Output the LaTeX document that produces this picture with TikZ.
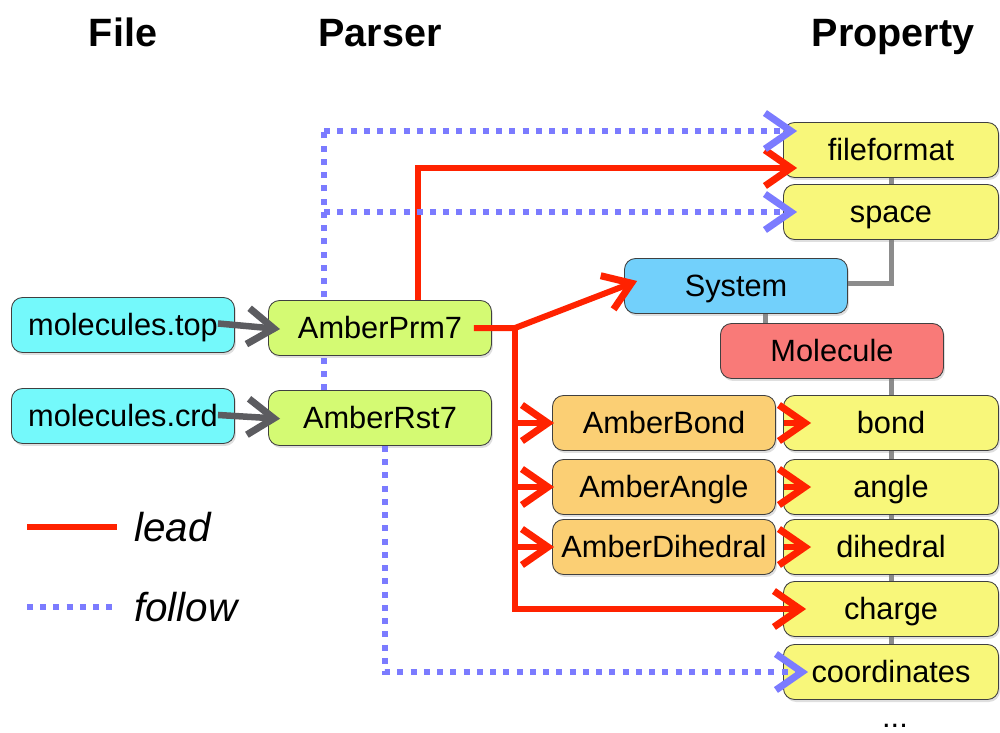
\documentclass[tikz,border=0pt]{standalone}
\usepackage{fontspec}
\setmainfont{Liberation Sans}
\usetikzlibrary{arrows.meta, positioning, calc, backgrounds, shadows}

\definecolor{filecyan}{RGB}{116,249,251}
\definecolor{parsergreen}{RGB}{212,250,115}
\definecolor{propyellow}{RGB}{248,247,122}
\definecolor{systemblue}{RGB}{114,208,251}
\definecolor{moleculered}{RGB}{249,122,120}
\definecolor{amberorange}{RGB}{251,207,116}
\definecolor{leadred}{RGB}{255,34,0}
\definecolor{followblue}{RGB}{123,123,255}
\definecolor{feedgray}{RGB}{92,92,96}
\definecolor{linkgray}{RGB}{140,140,140}

\begin{document}
\begin{tikzpicture}[
    x=0.02cm, y=-0.02cm,
    box/.style={
        draw=black!75, line width=0.5pt, rounded corners=0.22cm,
        minimum width=4.46cm, minimum height=1.1cm, inner sep=0pt,
        font=\fontsize{17.5}{20}\selectfont, text height=12.5pt, text depth=0pt,
        drop shadow={shadow xshift=0.03cm, shadow yshift=-0.05cm, opacity=0.25}
    },
    filebox/.style={box, fill=filecyan},
    parserbox/.style={box, fill=parsergreen},
    propbox/.style={box, fill=propyellow, minimum width=4.3cm},
    amberbox/.style={box, fill=amberorange},
    heading/.style={font=\fontsize{22.5}{26}\selectfont\bfseries, anchor=base},
    keytext/.style={font=\fontsize{23}{26}\selectfont\itshape, anchor=west},
    barb/.style={-{Straight Barb[length=0.52cm,width=0.72cm,line width=0.14cm]}},
    lead line/.style={draw=leadred, line width=0.12cm},
    follow line/.style={draw=followblue, line width=0.12cm, dash pattern=on 0.12cm off 0.145cm},
    lead/.style={lead line, barb, shorten >=-0.28cm},
    follow/.style={follow line, barb, shorten >=-0.28cm},
    feed/.style={draw=feedgray, line width=0.13cm, barb, shorten <=-0.34cm, shorten >=-0.24cm},
    link/.style={draw=linkgray, line width=0.1cm}
]
\useasboundingbox (0,0) rectangle (1000,733);

% Column headings
\node[heading] (filehead) at (123,47) {File};
\node[heading] (parserhead) at (380,47) {Parser};
\node[heading] (prophead) at (893,47) {Property};

% Files and parsers
\node[filebox] (top) at (123,325) {molecules.top};
\node[filebox] (crd) at (123,416) {molecules.crd};
\node[parserbox] (prm) at (380,328) {AmberPrm7};
\node[parserbox] (rst) at (380,418) {AmberRst7};

% Properties
\node[propbox] (fileformat) at (891,150) {fileformat};
\node[propbox] (space) at (891,212) {space};
\node[box, fill=systemblue] (system) at (736,286) {System};
\node[box, fill=moleculered] (molecule) at (832,351) {Molecule};
\node[amberbox] (abond) at (664,423) {AmberBond};
\node[amberbox] (aangle) at (664,487) {AmberAngle};
\node[amberbox] (adihedral) at (664,547) {AmberDihedral};
\node[propbox] (bond) at (891,423) {bond};
\node[propbox] (angle) at (891,487) {angle};
\node[propbox] (dihedral) at (891,547) {dihedral};
\node[propbox] (charge) at (891,609) {charge};
\node[propbox] (coords) at (891,672) {coordinates};
\node[font=\fontsize{17.5}{20}\selectfont, anchor=base] (more) at (895,727) {...};

% Helper points
\coordinate (split) at (515,328);
\coordinate (fork) at ([xshift=-1.12cm]rst.north);
\coordinate (ffin) at ([yshift=0.38cm]fileformat.west);
\coordinate (sm) at ($(system.south)+(29,0)$);

% Links behind the boxes
\begin{scope}[on background layer]
\draw[link] (fileformat) -- (space);
\draw[link] (space.south) |- ([yshift=0.06cm]system.east);
\draw[link] (sm) -- (sm |- molecule.north);
\draw[link] (molecule.south -| bond) -- (bond.north);
\draw[link] (bond) -- (coords);
\draw[follow line] (fork) -- (fork |- ffin);
\end{scope}

% Files into parsers
\draw[feed] (top.east) -- (prm.west);
\draw[feed] (crd.east) -- (rst.west);

% lead
\draw[lead] ([xshift=0.76cm]prm.north) |- ([yshift=-0.36cm]fileformat.west);
\draw[lead, shorten <=-0.36cm] (prm.east) -- (split) -- (system.west);
\draw[lead, shorten >=-0.46cm] (split) |- (charge.west);
\draw[lead, shorten >=-0.04cm] (split |- abond) -- (abond.west);
\draw[lead, shorten >=-0.04cm] (split |- aangle) -- (aangle.west);
\draw[lead, shorten >=-0.04cm] (split |- adihedral) -- (adihedral.west);
\draw[lead, shorten <=0.16cm, shorten >=-0.56cm] (abond.east) -- (bond.west);
\draw[lead, shorten <=0.16cm, shorten >=-0.56cm] (aangle.east) -- (angle.west);
\draw[lead, shorten <=0.16cm, shorten >=-0.56cm] (adihedral.east) -- (dihedral.west);

% follow
\draw[follow] (fork |- ffin) -- (ffin);
\draw[follow] (fork |- space.west) -- (space.west);
\draw[follow, shorten >=-0.5cm] ([xshift=0.1cm]rst.south) |- (coords.west);

% Key
\node[keytext] (leadkey) at (128,527) {lead};
\node[keytext] (followkey) at (128,607) {follow};
\coordinate (leadstart) at (27,527);
\coordinate (followstart) at (27,607);
\draw[lead line] (leadstart) -- ([xshift=-0.22cm]leadkey.west);
\draw[follow line] (followstart) -- ([xshift=-0.22cm]followkey.west);

\end{tikzpicture}
\end{document}
